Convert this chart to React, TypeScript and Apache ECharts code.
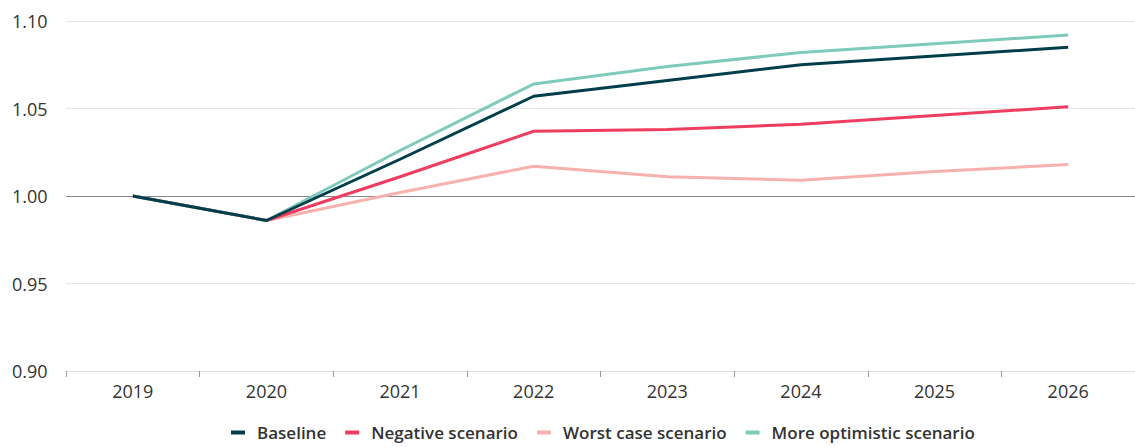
import React, { useEffect, useRef } from "react";
import * as echarts from "echarts";

const years = ["2019", "2020", "2021", "2022", "2023", "2024", "2025", "2026"];
const baseline = [1.0, 0.986, 1.021, 1.057, 1.066, 1.075, 1.08, 1.085];
const negative = [1.0, 0.986, 1.011, 1.037, 1.038, 1.041, 1.046, 1.051];
const worstCase = [1.0, 0.986, 1.002, 1.017, 1.011, 1.009, 1.014, 1.018];
const optimistic = [1.0, 0.986, 1.026, 1.064, 1.074, 1.082, 1.087, 1.092];

const FONT = "'Open Sans', 'Noto Sans', sans-serif";

export default function App() {
  const ref = useRef<HTMLDivElement>(null);
  useEffect(() => {
    if (!ref.current) return;
    const chart = echarts.init(ref.current, undefined, { renderer: "svg" });
    const mk = (name: string, data: number[], color: string, z: number) => ({
      name,
      type: "line",
      data,
      symbol: "none",
      z,
      lineStyle: { color, width: 3 },
      itemStyle: { color },
    });
    chart.setOption({
      animation: false,
      grid: { left: 66, right: 0, top: 21, bottom: 76 },
      legend: {
        bottom: 1,
        left: 226,
        data: ["Baseline", "Negative scenario", "Worst case scenario", "More optimistic scenario"],
        icon: "rect",
        itemWidth: 14,
        itemHeight: 4,
        itemGap: 19,
        textStyle: {
          fontFamily: FONT,
          fontSize: 17,
          fontWeight: 600,
          color: "#333",
          padding: [0, 0, 0, 7],
        },
      },
      xAxis: {
        type: "category",
        data: years,
        boundaryGap: true,
        axisLine: { show: true, lineStyle: { color: "#e0e0e0", width: 1 } },
        axisTick: { show: true, length: 6, lineStyle: { color: "#999" } },
        axisLabel: { fontFamily: FONT, fontSize: 18, color: "#333", margin: 11 },
      },
      yAxis: {
        type: "value",
        min: 0.9,
        max: 1.1,
        interval: 0.05,
        axisLine: { show: false },
        axisTick: { show: false },
        axisLabel: {
          fontFamily: FONT,
          fontSize: 18,
          color: "#333",
          align: "left",
          margin: 54,
          formatter: (v: number) => v.toFixed(2),
        },
        splitLine: {
          show: true,
          lineStyle: { color: ["#e6e6e6", "#e6e6e6", "#888888", "#e6e6e6", "#e6e6e6"], width: 1 },
        },
      },
      series: [
        mk("Worst case scenario", worstCase, "#f7b2ae", 2),
        mk("Negative scenario", negative, "#ee3d5f", 3),
        mk("More optimistic scenario", optimistic, "#7ecbbb", 4),
        mk("Baseline", baseline, "#003e4b", 5),
      ],
    });
    return () => chart.dispose();
  }, []);
  return <div ref={ref} style={{ width: 1135, height: 447, position: "absolute", left: 0, top: 0 }} />;
}
